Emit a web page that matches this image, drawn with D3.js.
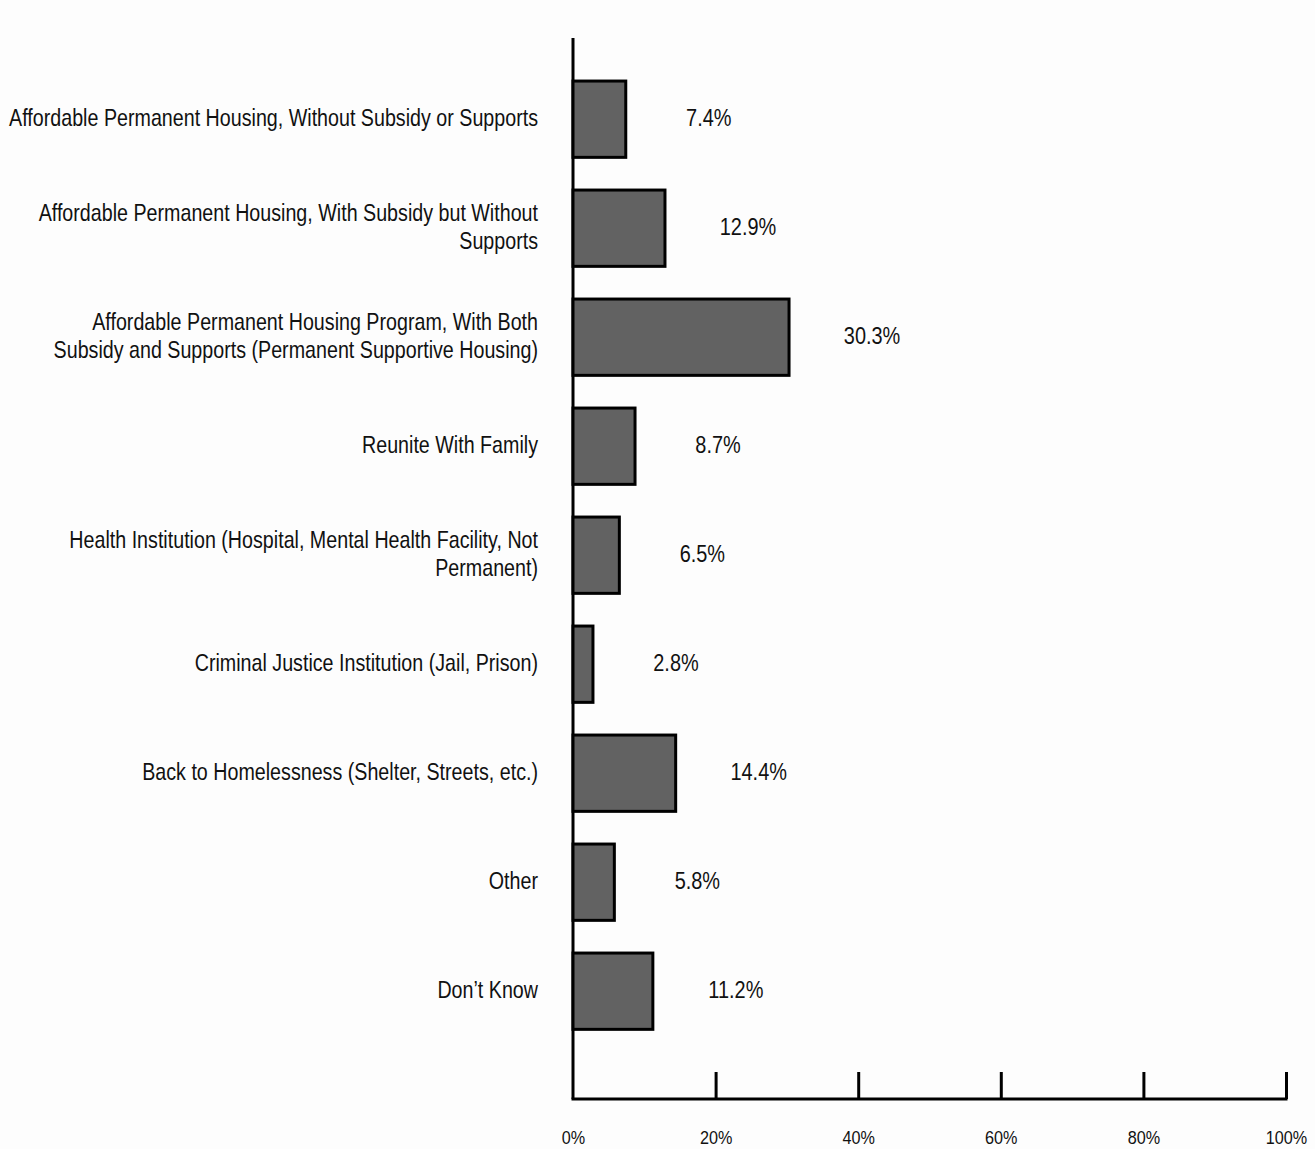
<!DOCTYPE html>
<html><head><meta charset="utf-8">
<script src="https://cdn.jsdelivr.net/npm/d3@7"></script>
<style>
html,body{margin:0;padding:0;background:#fdfdfd;}
svg{display:block;}
text{font-family:"Liberation Sans",Arial,sans-serif;fill:#111;}
</style></head><body>
<svg id="chart" width="1315" height="1149"></svg>
<script>
const categories = [
  "Affordable Permanent Housing, Without Subsidy or Supports",
  "Affordable Permanent Housing, With Subsidy but Without\nSupports",
  "Affordable Permanent Housing Program, With Both\nSubsidy and Supports (Permanent Supportive Housing)",
  "Reunite With Family",
  "Health Institution (Hospital, Mental Health Facility, Not\nPermanent)",
  "Criminal Justice Institution (Jail, Prison)",
  "Back to Homelessness (Shelter, Streets, etc.)",
  "Other",
  "Don\u2019t Know"
];
const values = [7.4, 12.9, 30.3, 8.7, 6.5, 2.8, 14.4, 5.8, 11.2];
const tickValues = [0, 20, 40, 60, 80, 100];

const svg = d3.select("#chart");
const x = d3.scaleLinear().domain([0, 100]).range([573, 1286]);
const y = d3.scaleBand().domain(categories).range([64.7, 1045.7]).paddingInner(0.3).paddingOuter(0.15);

// axes lines
const axisY = 1099;
svg.append("line").attr("x1", x(0)).attr("x2", x(0)).attr("y1", 38).attr("y2", axisY)
  .attr("stroke", "#000").attr("stroke-width", 3);
svg.append("line").attr("x1", x(0)-1.5).attr("x2", x(100)+1.5).attr("y1", axisY).attr("y2", axisY)
  .attr("stroke", "#000").attr("stroke-width", 3);

// x ticks
const xAxis = d3.axisBottom(x).tickValues(tickValues).tickFormat(d => d + "%").tickSize(0).tickPadding(0);
const gx = svg.append("g").attr("transform", `translate(0,${axisY})`).call(xAxis);
gx.select(".domain").remove();
gx.selectAll(".tick line").attr("y1", 0).attr("y2", -27).attr("stroke", "#000").attr("stroke-width", 3)
  .filter(d => d === 0).remove();
gx.selectAll(".tick text").attr("y", 45).attr("dy", "0").attr("font-size", 18)
  .attr("transform", "scale(0.9,1)")
  .style("font-family", '"Liberation Sans",Arial,sans-serif').attr("fill", "#111");

// bars
svg.selectAll("rect.bar").data(values).join("rect").attr("class", "bar")
  .attr("x", x(0)).attr("y", (d, i) => y(categories[i]))
  .attr("width", d => x(d) - x(0)).attr("height", y.bandwidth())
  .attr("fill", "#626262").attr("stroke", "#000").attr("stroke-width", 3);

const labelY = c => y(c) + y.bandwidth() / 2 - 2;

// value labels
svg.selectAll("g.val").data(values).join("g").attr("class", "val")
  .attr("transform", (d, i) => `translate(${x(d) + 83},${labelY(categories[i])}) scale(0.83,1)`)
  .append("text").attr("dy", "0.36em").attr("text-anchor", "middle").attr("font-size", 24)
  .text(d => d.toFixed(1) + "%");

// category labels
const fs = 24, lh = 28;
categories.forEach((c, i) => {
  const lines = c.split("\n");
  const t = svg.append("g").attr("transform", `translate(538,${labelY(c)}) scale(0.82,1)`)
    .append("text").attr("text-anchor", "end").attr("font-size", fs);
  lines.forEach((ln, j) => {
    t.append("tspan").attr("x", 0).attr("y", (j - (lines.length - 1) / 2) * lh).attr("dy", "0.36em").text(ln);
  });
});
</script>
</body></html>
